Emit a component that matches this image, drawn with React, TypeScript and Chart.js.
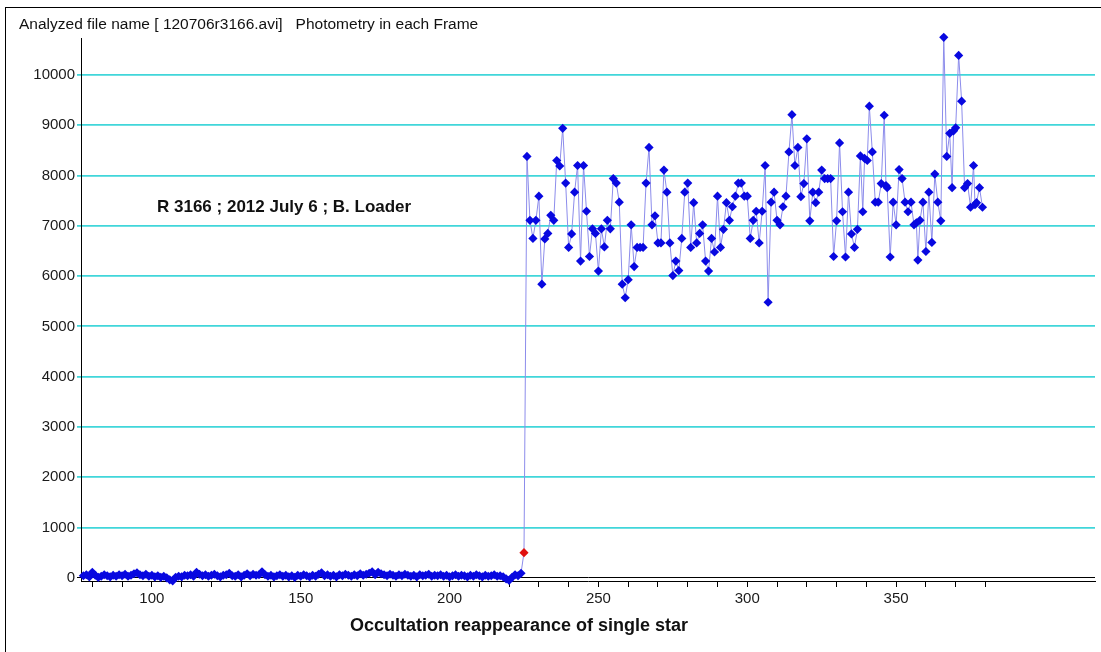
import React, { useEffect, useRef } from "react";
import { Chart, registerables } from "chart.js";

Chart.register(...registerables);

// ---- data ----
const baselineStartFrame = 77;
const baselineValues = [
  40, 60, 20, 110, 50, 10, 30, 60, 40, 20,
  50, 30, 60, 40, 70, 30, 50, 80, 100, 60,
  40, 70, 30, 50, 20, 40, 10, 30, 0, -40,
  -60, 10, 30, 20, 50, 40, 60, 30, 110, 70,
  40, 60, 30, 50, 70, 40, 20, 50, 60, 90,
  40, 30, 60, 20, 50, 80, 40, 70, 50, 60,
  120, 60, 30, 50, 20, 40, 60, 30, 50, 20,
  40, 10, 50, 30, 60, 40, 20, 50, 30, 70,
  100, 40, 60, 30, 50, 20, 60, 40, 70, 50,
  30, 60, 40, 80, 50, 70, 90, 120, 60, 110,
  80, 60, 40, 70, 50, 30, 60, 40, 70, 50,
  30, 50, 20, 60, 40, 50, 70, 30, 50, 40,
  60, 30, 50, 20, 40, 60, 30, 50, 40, 20,
  50, 30, 60, 40, 20, 50, 30, 40, 60, 30,
  40, 20, -20, -50, 10, 60, 40, 90,
];

const eventFrame = 225;
const eventValue = 500;

const brightStartFrame = 226;
const brightValues = [
  8380, 7110, 6750, 7110, 7590, 5840, 6740, 6850, 7210, 7110, 8300, 8190,
  8940, 7850, 6570, 6840, 7670, 8200, 6300, 8200, 7290, 6390, 6940, 6850,
  6100, 6940, 6580, 7110, 6940, 7940, 7850, 7470, 5840, 5570, 5930, 7020,
  6190, 6570, 6570, 6570, 7850, 8560, 7020, 7200, 6660, 6660, 8110, 7670,
  6660, 6010, 6300, 6110, 6750, 7670, 7850, 6570, 7460, 6660, 6850, 7020,
  6300, 6100, 6750, 6480, 7590, 6570, 6930, 7460, 7110, 7380, 7590, 7850,
  7850, 7590, 7590, 6750, 7110, 7290, 6660, 7290, 8200, 5480, 7470, 7670,
  7110, 7020, 7380, 7590, 8470, 9210, 8200, 8560, 7580, 7840, 8730, 7100,
  7670, 7460, 7670, 8110, 7940, 7940, 7940, 6390, 7100, 8650, 7280, 6380,
  7670, 6840, 6570, 6930,
];

const lateFrames = [
  338, 338.8, 339.4, 340.3, 341, 342, 343, 344, 345, 346, 346.6, 347,
  348, 349, 350, 351, 352, 353, 354, 355, 356, 356.8, 357.3, 358,
  359, 360, 361, 362, 363, 364, 365, 366, 367, 368, 368.8, 369.3,
  370, 371, 372, 373, 374, 375, 376, 376.5, 377, 378, 379,
];
const lateValues = [
  8390, 7280, 8340, 8300, 9380, 8470, 7470, 7470, 7840, 9200, 7800, 7760,
  6380, 7470, 7020, 8120, 7940, 7470, 7280, 7470, 7020, 7060, 6320, 7110,
  7470, 6490, 7670, 6670, 8030, 7470, 7100, 10750, 8380, 8840, 7760, 8890,
  8950, 10390, 9480, 7760, 7840, 7370, 8200, 7420, 7460, 7760, 7370,
];

const yTickValues = [0, 1000, 2000, 3000, 4000, 5000, 6000, 7000, 8000, 9000, 10000];
const xTickValues = [80, 90, 100, 110, 120, 130, 140, 150, 160, 170, 180, 190, 200, 210, 220, 230, 240, 250, 260, 270, 280, 290, 300, 310, 320, 330, 340, 350, 360, 370, 380];
const xLabelValues = [100, 150, 200, 250, 300, 350];

const titleText = "Analyzed file name [ 120706r3166.avi]   Photometry in each Frame";
const noteText = "R 3166 ; 2012 July 6 ; B. Loader";
const xAxisTitle = "Occultation reappearance of single star";

// ---- styles ----
const FONT = "'Liberation Sans', Arial, sans-serif";
const CYAN = "rgb(64,214,218)";
const BLUE = "#0808e0";
const RED = "#e01010";
const LINE = "rgb(140,140,235)";
const W = 1101;
const H = 652;

export default function App() {
  const ref = useRef<HTMLCanvasElement | null>(null);

  useEffect(() => {
    document.body.style.margin = "0";
    const canvas = ref.current;
    if (!canvas) return;

    const points: { x: number; y: number }[] = [];
    baselineValues.forEach((v, i) => points.push({ x: baselineStartFrame + i, y: v }));
    points.push({ x: eventFrame, y: eventValue });
    brightValues.forEach((v, i) => points.push({ x: brightStartFrame + i, y: v }));
    lateFrames.forEach((f, i) => points.push({ x: f, y: lateValues[i] }));

    const textPlugin = {
      id: "texts",
      afterDraw(chart: any) {
        const c = chart.ctx;
        c.save();
        c.fillStyle = "#111";
        c.textBaseline = "middle";
        c.textAlign = "left";
        c.font = `15.5px ${FONT}`;
        c.fillText(titleText, 19, 25);
        c.font = `bold 17px ${FONT}`;
        c.fillText(noteText, 157, 207);
        c.textAlign = "center";
        c.font = `bold 18px ${FONT}`;
        c.fillText(xAxisTitle, 519, 626);
        c.restore();
      },
    };

    const chart = new Chart(canvas, {
      type: "line",
      data: {
        datasets: [
          {
            data: points,
            borderColor: LINE,
            borderWidth: 1,
            pointStyle: "rectRot",
            pointRadius: 4.6,
            pointHoverRadius: 4.6,
            pointBorderWidth: 0,
            pointBackgroundColor: (ctx: any) =>
              ctx.raw && ctx.raw.x === eventFrame ? RED : BLUE,
            pointBorderColor: (ctx: any) =>
              ctx.raw && ctx.raw.x === eventFrame ? RED : BLUE,
            tension: 0,
            clip: false as any,
          },
        ],
      },
      plugins: [textPlugin],
      options: {
        animation: false,
        responsive: false,
        devicePixelRatio: 1,
        parsing: false as any,
        normalized: true,
        layout: { padding: { left: 0, top: 38, right: W - 1095, bottom: 0 } },
        plugins: {
          legend: { display: false },
          tooltip: { enabled: false },
          title: { display: false },
        },
        scales: {
          x: {
            type: "linear",
            min: 76.2,
            max: 416.8,
            afterBuildTicks: (s: any) => {
              s.ticks = xTickValues.map((v) => ({ value: v }));
            },
            afterFit: (s: any) => {
              s.height = H - 581;
            },
            ticks: {
              autoSkip: false,
              maxRotation: 0,
              padding: 3,
              color: "#1a1a1a",
              font: { family: FONT, size: 15 },
              callback: (v: any) => (xLabelValues.includes(Number(v)) ? String(v) : ""),
            },
            grid: {
              drawOnChartArea: false,
              drawTicks: true,
              tickLength: 6,
              color: "#000",
              tickColor: "#000",
            },
            border: { display: true, color: "#000", width: 1 },
          },
          y: {
            type: "linear",
            min: -64,
            max: 10736,
            afterBuildTicks: (s: any) => {
              s.ticks = yTickValues.map((v) => ({ value: v }));
            },
            afterFit: (s: any) => {
              s.width = 81;
            },
            ticks: {
              padding: 2,
              color: "#1a1a1a",
              font: { family: FONT, size: 15 },
              callback: (v: any) => String(v),
            },
            grid: {
              drawTicks: true,
              tickLength: 4,
              color: (ctx: any) => (ctx.tick && ctx.tick.value === 0 ? "#000" : CYAN),
              tickColor: (ctx: any) => (ctx.tick && ctx.tick.value === 0 ? "#000" : CYAN),
              lineWidth: (ctx: any) => (ctx.tick && ctx.tick.value === 0 ? 1 : 1.8),
            },
            border: { display: true, color: "#000", width: 1 },
          },
        },
      },
    });

    return () => chart.destroy();
  }, []);

  return (
    <div style={{ position: "relative", width: W, height: H, background: "#fff", overflow: "hidden" }}>
      <div
        style={{
          position: "absolute",
          left: 5,
          top: 7,
          right: -2,
          bottom: -2,
          borderLeft: "1px solid #000",
          borderTop: "1px solid #000",
          pointerEvents: "none",
        }}
      />
      <canvas ref={ref} width={W} height={H} style={{ position: "absolute", left: 0, top: 0 }} />
    </div>
  );
}
